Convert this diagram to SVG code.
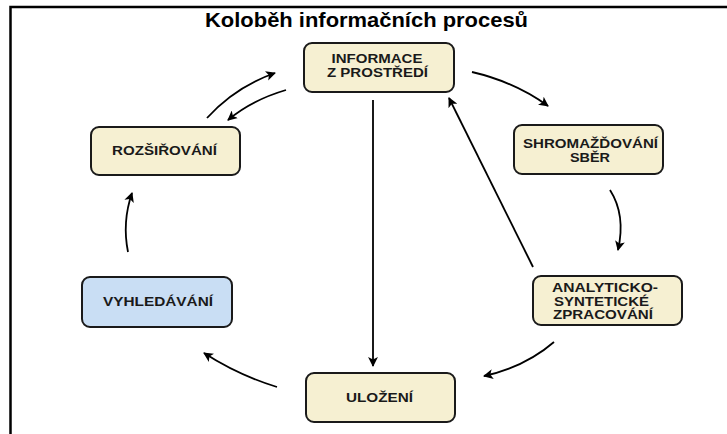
<svg xmlns="http://www.w3.org/2000/svg" width="727" height="434" viewBox="0 0 727 434">
<defs>
<marker id="ah" viewBox="0 0 10 10" refX="9" refY="5" markerWidth="5.5" markerHeight="5.5" orient="auto" markerUnits="strokeWidth">
<path d="M0,0 L10,5 L0,10 L2.5,5 z" fill="#000"/>
</marker>
</defs>
<style>
.box{fill:#f6f0d2;stroke:#1a1a1a;stroke-width:2}
.blue{fill:#c9def4}
.t{font-family:"Liberation Sans",Arial,sans-serif;font-weight:bold;font-size:12px;fill:#1a1a1a;text-anchor:middle}
.c{fill:none;stroke:#000;stroke-width:1.8;marker-end:url(#ah)}
.title{font-family:"Liberation Sans",Arial,sans-serif;font-weight:bold;font-size:21px;fill:#000;text-anchor:middle}
</style>
<rect width="727" height="434" fill="#fff"/>
<path d="M10.5,434 L10.5,7 L727,7" fill="none" stroke="#000" stroke-width="2.5"/>
<text class="title" x="366.5" y="27" textLength="323" lengthAdjust="spacingAndGlyphs">Koloběh informačních procesů</text>
<g id="connectors">
<path class="c" d="M373,100 L373,366"/>
<path class="c" d="M533,267 L449,98"/>
<path class="c" d="M472,72 Q515,82 548,106"/>
<path class="c" d="M610,190 Q626,215 618,250"/>
<path class="c" d="M554,342 Q525,367 484,376"/>
<path class="c" d="M277,387 Q238,375 204,353"/>
<path class="c" d="M128,252 Q122,222 132,193"/>
<path class="c" d="M207,118 Q235,87 275,73"/>
<path class="c" d="M286,90 Q252,100 228,120"/>
</g>
<g id="informace">
<rect class="box" x="304" y="43" width="150" height="49" rx="8"/>
<text class="t" x="377" y="63" textLength="91" lengthAdjust="spacingAndGlyphs">INFORMACE</text>
<text class="t" x="377.5" y="77" textLength="101" lengthAdjust="spacingAndGlyphs">Z PROSTŘEDÍ</text>
</g>
<g id="shromazdovani">
<rect class="box" x="514" y="125" width="149" height="49" rx="8"/>
<text class="t" x="590.5" y="148" textLength="135" lengthAdjust="spacingAndGlyphs">SHROMAŽĎOVÁNÍ</text>
<text class="t" x="590" y="162" textLength="40" lengthAdjust="spacingAndGlyphs">SBĚR</text>
</g>
<g id="analyticko">
<rect class="box" x="533" y="276" width="149" height="49" rx="8"/>
<text class="t" x="605" y="292" textLength="106" lengthAdjust="spacingAndGlyphs">ANALYTICKO-</text>
<text class="t" x="601.5" y="305.5" textLength="95" lengthAdjust="spacingAndGlyphs">SYNTETICKÉ</text>
<text class="t" x="603" y="319" textLength="100" lengthAdjust="spacingAndGlyphs">ZPRACOVÁNÍ</text>
</g>
<g id="ulozeni">
<rect class="box" x="306" y="373" width="149" height="49" rx="8"/>
<text class="t" x="379.5" y="402" textLength="67" lengthAdjust="spacingAndGlyphs">ULOŽENÍ</text>
</g>
<g id="vyhledavani">
<rect class="box blue" x="82" y="277" width="150" height="50" rx="8"/>
<text class="t" x="158" y="306" textLength="110" lengthAdjust="spacingAndGlyphs">VYHLEDÁVÁNÍ</text>
</g>
<g id="rozsirovani">
<rect class="box" x="91" y="127" width="149" height="48" rx="8"/>
<text class="t" x="164.5" y="155" textLength="105" lengthAdjust="spacingAndGlyphs">ROZŠIŘOVÁNÍ</text>
</g>
</svg>
